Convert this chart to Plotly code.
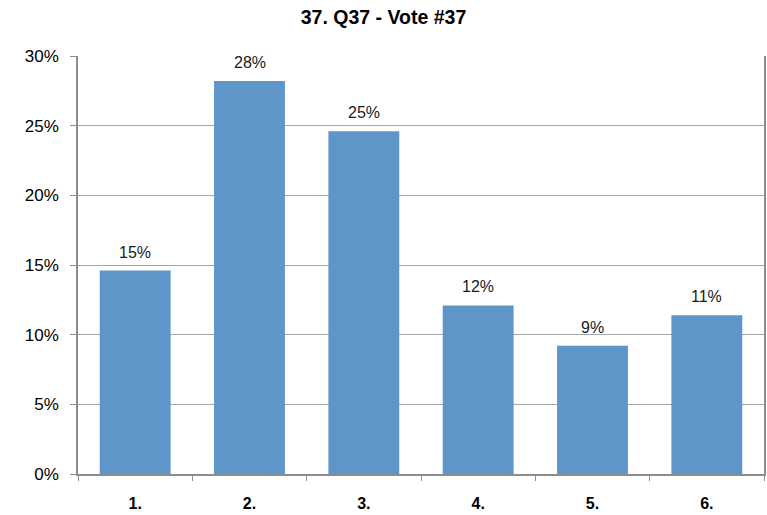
import plotly.graph_objects as go

# Vote results for question 37
categories = ["1.", "2.", "3.", "4.", "5.", "6."]
shares = [0.146, 0.282, 0.246, 0.121, 0.092, 0.114]
y_ticks = [0, 0.05, 0.10, 0.15, 0.20, 0.25, 0.30]
y_tick_labels = ["0%", "5%", "10%", "15%", "20%", "25%", "30%"]

BAR_COLOR = "#5F96CA"
GRID_COLOR = "#A6A6A6"
AXIS_COLOR = "#8C8C8C"
FONT = "Liberation Sans, Arial, sans-serif"

fig = go.Figure(
    go.Bar(
        x=categories,
        y=shares,
        marker=dict(color=BAR_COLOR, line=dict(width=0)),
        hoverinfo="skip",
    )
)

# Percentage labels above each bar (x given as category index)
for i, val in enumerate(shares):
    fig.add_annotation(
        x=i, y=val, text=f"{val:.0%}", showarrow=False,
        yanchor="bottom", yshift=8,
        font=dict(family=FONT, size=16, color="#1a1a1a"),
    )

fig.update_layout(
    width=767, height=515,
    margin=dict(l=78, r=1, t=56, b=41),
    paper_bgcolor="white", plot_bgcolor="white",
    bargap=0.38,
    showlegend=False,
    title=dict(
        text="<b>37. Q37 - Vote #37</b>",
        x=0.5, xanchor="center", y=0.966, yanchor="middle",
        font=dict(family=FONT, size=19.5, color="#000000"),
    ),
    font=dict(family=FONT),
)

fig.update_xaxes(
    type="category", categoryorder="array", categoryarray=categories,
    range=[-0.5, len(categories) - 0.5],
    tickson="boundaries", ticks="outside", ticklen=5, tickcolor=AXIS_COLOR,
    showline=True, linecolor=AXIS_COLOR, linewidth=1.5,
    showgrid=False,
    tickfont=dict(family=FONT, size=16, color="#000000", weight="bold"),
    ticklabelstandoff=14,
)

fig.update_yaxes(
    range=[0, 0.30],
    tickvals=y_ticks, ticktext=y_tick_labels,
    ticks="outside", ticklen=6, tickcolor=AXIS_COLOR,
    showline=True, mirror=True, linecolor=AXIS_COLOR, linewidth=1.5,
    showgrid=True, gridcolor=GRID_COLOR, gridwidth=1,
    zeroline=False,
    tickfont=dict(family=FONT, size=17, color="#000000"),
    ticklabelstandoff=8,
)

fig.write_html("out.html")
